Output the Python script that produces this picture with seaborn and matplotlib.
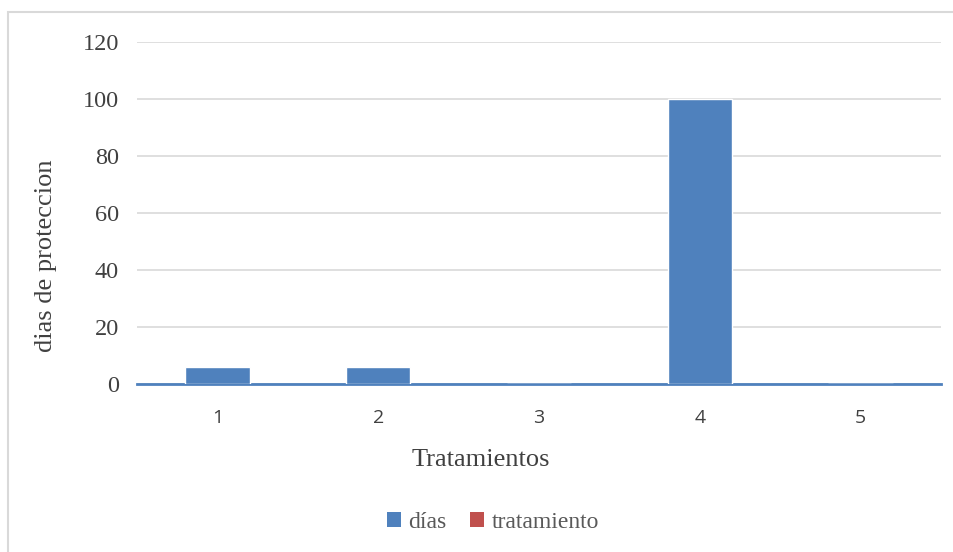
import matplotlib
matplotlib.use("Agg")
import matplotlib.pyplot as plt
from matplotlib.patches import Rectangle, Patch
import seaborn as sns
import pandas as pd

# Data
tratamientos = ["1", "2", "3", "4", "5"]
dias = [6, 6, 0, 100, 0]
series_names = ["días", "tratamiento"]
series_colors = ["#4f81bd", "#c0504d"]
y_ticks = [0, 20, 40, 60, 80, 100, 120]

sns.set_theme(style="white")
serif = ["Liberation Serif", "DejaVu Serif"]
sans = ["Open Sans", "DejaVu Sans"]

W, H = 954, 552
fig = plt.figure(figsize=(W / 100, H / 100), dpi=100)

# Outer chart border
fig.patches.append(Rectangle((8 / W, -0.01), 1.05, 1 - 12 / H + 0.01,
                             transform=fig.transFigure, fill=False,
                             edgecolor="#d9d9d9", linewidth=1.5))

left, right = 137 / W, 941 / W
bottom, top = 1 - 384 / H, 1 - 42 / H
ax = fig.add_axes([left, bottom, right - left, top - bottom])

df = pd.DataFrame({"Tratamientos": tratamientos, "dias": dias})
sns.barplot(data=df, x="Tratamientos", y="dias", color=series_colors[0],
            saturation=1, width=0.4, ax=ax, zorder=3)

ax.set_ylim(0, 120)
ax.set_xlim(-0.5, len(tratamientos) - 0.5)
ax.set_yticks(y_ticks)
ax.yaxis.grid(True, color="#d9d9d9", linewidth=1.2, zorder=0)
ax.set_axisbelow(True)

for s in ["top", "right", "left"]:
    ax.spines[s].set_visible(False)
ax.spines["bottom"].set_color(series_colors[0])
ax.spines["bottom"].set_linewidth(2)
ax.spines["bottom"].set_zorder(2)

ax.tick_params(axis="both", length=0)
ax.tick_params(axis="y", pad=13)
ax.tick_params(axis="x", pad=18)
for lab in ax.get_yticklabels():
    lab.set_fontfamily(serif)
    lab.set_fontsize(17.5)
    lab.set_color("#404040")
for lab in ax.get_xticklabels():
    lab.set_fontfamily(sans)
    lab.set_fontsize(14)
    lab.set_color("#404040")

ax.set_ylabel("dias de proteccion", fontfamily=serif, fontsize=19, color="#404040")
ax.set_xlabel("Tratamientos", fontfamily=serif, fontsize=19, color="#404040")
ax.yaxis.set_label_coords(-(137 - 57) / (941 - 137), (384 - 256) / (384 - 42))
ax.xaxis.set_label_coords((481 - 137) / (941 - 137), -(449 - 384) / (384 - 42))

handles = [Patch(facecolor=c, edgecolor="none") for c in series_colors]
fig.legend(handles, series_names, loc="center", bbox_to_anchor=(493 / W, 1 - 522 / H),
           ncol=2, frameon=False, prop={"family": serif, "size": 17},
           labelcolor="#595959", handlelength=0.6, handleheight=0.6,
           handletextpad=0.3, columnspacing=1.0)

fig.savefig("out.png", dpi=100)
